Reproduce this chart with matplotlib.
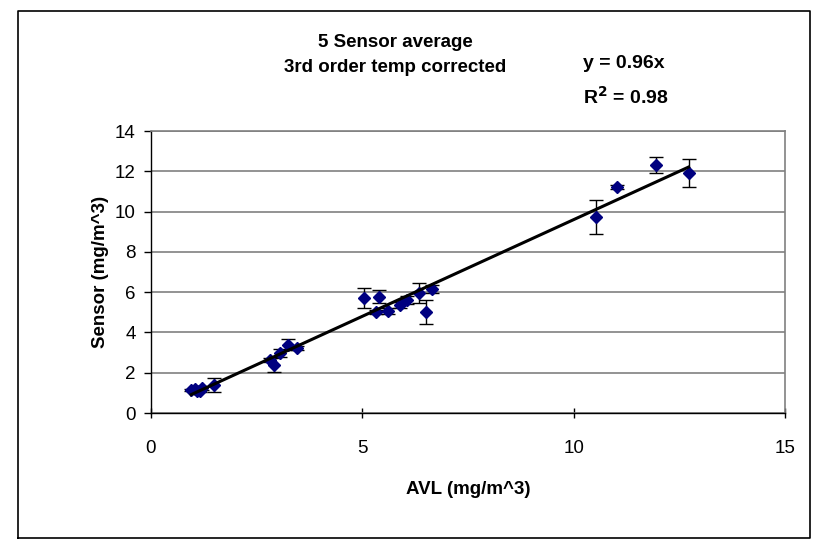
import matplotlib
matplotlib.use("Agg")
import matplotlib.pyplot as plt
from matplotlib.lines import Line2D
import numpy as np

plt.rcParams['font.family'] = ['Liberation Sans', 'DejaVu Sans']

# AVL (x), Sensor (y), error (symmetric)
avl = [0.95, 1.05, 1.1, 1.15, 1.2, 1.5, 2.82, 2.9, 3.06, 3.25, 3.45,
       5.03, 5.33, 5.4, 5.6, 5.9, 6.05, 6.35, 6.5, 6.65,
       10.52, 11.02, 11.95, 12.72]
sensor = [1.15, 1.2, 1.1, 1.1, 1.25, 1.4, 2.63, 2.38, 2.98, 3.4, 3.23,
          5.7, 5.0, 5.77, 5.07, 5.35, 5.6, 5.95, 5.0, 6.15,
          9.73, 11.22, 12.31, 11.92]
err = [0.05, 0.05, 0.05, 0.05, 0.1, 0.35, 0.1, 0.35, 0.2, 0.25, 0.1,
       0.5, 0.1, 0.33, 0.15, 0.15, 0.2, 0.5, 0.6, 0.2,
       0.85, 0.1, 0.4, 0.68]
slope = 0.96

title_text = "5 Sensor average\n3rd order temp corrected"
eq_text = "y = 0.96x"
r2_text = "R$^{\\mathbf{2}}$ = 0.98"
xlabel = "AVL (mg/m^3)"
ylabel = "Sensor (mg/m^3)"
xticks = [0, 5, 10, 15]
yticks = [0, 2, 4, 6, 8, 10, 12, 14]

fig = plt.figure(figsize=(8.17, 5.47), dpi=100)
W, H = 817, 547
ax = fig.add_axes([151 / W, 1 - 413 / H, (785 - 151) / W, (413 - 131) / H])

# outer chart frame
fig.add_artist(Line2D([18 / W, 18 / W, 810 / W, 810 / W, 18 / W],
                      [1 - 538 / H, 1 - 11 / H, 1 - 11 / H, 1 - 538 / H, 1 - 538 / H],
                      transform=fig.transFigure, color='black', lw=1.2))

ax.set_xlim(0, 15)
ax.set_ylim(0, 14)
ax.set_xticks(xticks)
ax.set_yticks(yticks)
ax.yaxis.grid(True, color='#808080', lw=1.2)
ax.set_axisbelow(True)

ax.errorbar(avl, sensor, yerr=err, fmt='none', ecolor='black', elinewidth=1.0,
            capsize=5, capthick=1.0, zorder=2)
ax.plot(avl, sensor, linestyle='none', marker='D', color='#000080',
        markersize=6.5, zorder=3)

xl = np.array([min(avl), max(avl)])
ax.plot(xl, slope * xl, color='black', lw=2.2, zorder=4)

for s in ['left', 'bottom']:
    ax.spines[s].set_color('black')
    ax.spines[s].set_linewidth(1.0)
for s in ['top', 'right']:
    ax.spines[s].set_color('#808080')
    ax.spines[s].set_linewidth(1.2)

ax.tick_params(axis='both', labelsize=13.5, direction='inout', length=7, width=1.0)
ax.tick_params(axis='x', pad=16)
ax.tick_params(axis='y', direction='out', length=5, pad=6)

ax.set_xlabel(xlabel, fontsize=13.5, fontweight='bold', labelpad=17)
ax.set_ylabel(ylabel, fontsize=13.5, fontweight='bold', labelpad=4)

fig.text(395 / W, 1 - 55 / H, title_text, ha='center', va='center',
         fontsize=13.5, fontweight='bold', linespacing=1.6)
fig.text(583 / W, 1 - 64 / H, eq_text, ha='left', va='center',
         fontsize=14, fontweight='bold')
fig.text(583 / W, 1 - 97 / H, r2_text, ha='left', va='center',
         fontsize=14, fontweight='bold')

fig.savefig('out.png', dpi=100)
